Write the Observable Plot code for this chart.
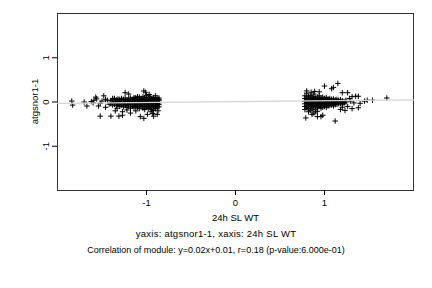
<!DOCTYPE html>
<html>
<head>
<meta charset="utf-8">
<script src="https://cdn.jsdelivr.net/npm/d3@7"></script>
<script src="https://cdn.jsdelivr.net/npm/@observablehq/plot@0.6"></script>
<style>
  html, body { margin: 0; padding: 0; background: #fff; }
  #wrap { width: 432px; font-family: "Liberation Sans", Arial, Helvetica, sans-serif; }
  .cap { width: 432px; text-align: center; line-height: 17px; color: #000; }
  .c1 { font-size: 9.5px; letter-spacing: 0.25px; }
  .c2 { font-size: 9px; letter-spacing: 0; }
</style>
</head>
<body>
<div id="wrap"></div>
<script>
// ---- data ----
const xTicks = [-1, 0, 1];
const yTicks = [-1, 0, 1];
const xLabel = "24h SL WT";
const yLabel = "atgsnor1-1";
const caption1 = "yaxis: atgsnor1-1, xaxis: 24h SL WT";
const caption2 = "Correlation of module: y=0.02x+0.01, r=0.18 (p-value:6.000e-01)";
const slope = 0.02, intercept = 0.01;

// left cluster: scattered points
const leftOutliers = [
  [-1.84,0.02],[-1.83,-0.07],[-1.70,0.00],[-1.67,-0.09],[-1.62,0.01],[-1.59,0.04],[-1.56,0.07],
  [-1.57,0.11],[-1.54,-0.09],[-1.50,0.02],[-1.48,0.14],[-1.52,-0.32],[-1.40,-0.32],[-1.31,-0.32],
  [-1.27,-0.30],[-1.46,-0.12],[-1.24,0.21],[-1.20,0.18],[-1.03,0.25],[-1.01,0.22],[-1.07,-0.33],
  [-1.03,-0.37],[-0.92,-0.32],[-0.88,-0.28],[-0.90,0.14],[-1.52,-0.03],[-1.44,0.04],[-1.42,-0.05],
  [-1.38,0.08],[-1.35,-0.20],[-1.33,-0.14],[-1.27,-0.22],[-1.22,-0.18],[-1.18,-0.25],[-1.10,0.12],
  [-1.12,-0.20],[-0.95,-0.22],[-0.93,-0.26],[-0.87,-0.20],[-0.86,0.09],[-0.97,0.17],[-1.14,0.10],
  [-0.99,-0.28],[-1.46,0.06],[-1.60,-0.02]
];
// left cluster: dense core, x column then its y values
const leftCore = [
  [-1.40,[0.03,-0.04]],
  [-1.38,[0.06,-0.01,-0.07]],
  [-1.36,[0.02,-0.05,0.08]],
  [-1.34,[-0.02,0.05,-0.08,0.00]],
  [-1.32,[0.04,-0.04,0.07]],
  [-1.30,[0.01,-0.06,0.06,-0.10]],
  [-1.28,[-0.02,0.04,0.08,-0.07]],
  [-1.26,[0.00,-0.05,0.06,-0.11]],
  [-1.24,[0.03,-0.03,0.09,-0.08]],
  [-1.22,[-0.01,0.05,-0.06,0.02,-0.12]],
  [-1.20,[0.02,-0.04,0.07,-0.09]],
  [-1.18,[-0.02,0.04,0.09,-0.06,-0.14]],
  [-1.16,[0.01,-0.05,0.06,-0.10]],
  [-1.14,[-0.03,0.03,0.08,-0.08,-0.13]],
  [-1.12,[0.00,0.05,-0.05,-0.10,0.10]],
  [-1.10,[-0.02,0.03,0.07,-0.07,-0.12]],
  [-1.08,[0.01,-0.04,0.05,-0.09,0.11,-0.15]],
  [-1.06,[-0.01,0.04,-0.06,0.08,-0.11]],
  [-1.04,[0.02,-0.03,0.06,-0.08,0.12,-0.14]],
  [-1.02,[-0.01,0.04,-0.05,0.09,-0.10,-0.17]],
  [-1.00,[0.01,-0.03,0.05,-0.07,0.10,-0.12,0.15]],
  [-0.98,[-0.02,0.03,-0.06,0.07,-0.10,-0.15]],
  [-0.96,[0.00,0.05,-0.04,0.09,-0.09,-0.13,0.13]],
  [-0.94,[-0.01,0.03,-0.06,0.07,-0.11,-0.17]],
  [-0.92,[0.02,-0.03,0.06,-0.08,0.10,-0.13,-0.19]],
  [-0.90,[-0.01,0.04,-0.05,0.08,-0.10,-0.15]],
  [-0.88,[0.01,-0.03,0.05,-0.08,0.09,-0.13]],
  [-0.86,[-0.02,0.03,-0.06,0.06,-0.11]]
];
// right cluster: scattered points
const rightOutliers = [
  [0.79,-0.36],[0.92,-0.33],[0.96,-0.33],[0.98,-0.30],[1.12,-0.43],[1.00,0.36],[1.08,0.30],
  [1.10,0.33],[1.15,0.42],[1.20,0.21],[1.26,0.21],[1.31,0.12],[1.35,0.13],[1.38,0.13],
  [1.29,0.02],[1.33,-0.02],[1.31,-0.15],[1.38,-0.13],[1.18,-0.17],[1.23,-0.19],[1.20,-0.12],
  [1.40,-0.03],[1.45,0.02],[1.48,0.04],[1.54,0.04],[1.70,0.09],[0.80,0.25],[0.85,0.22],
  [0.89,0.24],[0.94,0.23],[0.86,-0.28],[0.88,-0.25],[1.26,-0.10],[1.28,0.08],[0.82,-0.22],
  [0.90,-0.22]
];
// right cluster: dense core
const rightCore = [
  [0.78,[0.02,-0.04,0.08,-0.10,0.14,-0.17]],
  [0.80,[-0.01,0.05,-0.07,0.11,-0.13,0.20]],
  [0.82,[0.01,-0.04,0.07,-0.09,0.13,-0.15]],
  [0.84,[-0.02,0.04,-0.06,0.09,-0.11,0.15,-0.19]],
  [0.86,[0.00,0.05,-0.05,0.10,-0.10,-0.16]],
  [0.88,[0.02,-0.03,0.07,-0.08,0.12,-0.13,0.18]],
  [0.90,[-0.01,0.04,-0.06,0.09,-0.11,-0.17]],
  [0.92,[0.01,-0.04,0.06,-0.08,0.11,-0.13,-0.21]],
  [0.94,[-0.02,0.03,-0.06,0.08,-0.10,0.14]],
  [0.96,[0.00,0.05,-0.04,0.09,-0.09,-0.14]],
  [0.98,[0.02,-0.03,0.06,-0.07,0.11,-0.12]],
  [1.00,[-0.01,0.04,-0.05,0.08,-0.10]],
  [1.02,[0.01,-0.03,0.06,-0.07,0.10,-0.12]],
  [1.04,[-0.02,0.03,-0.05,0.07,-0.09]],
  [1.06,[0.00,0.05,-0.04,0.08,-0.08]],
  [1.08,[0.02,-0.03,0.06,-0.07]],
  [1.10,[-0.01,0.04,-0.05,0.07,-0.09]],
  [1.12,[0.01,-0.03,0.05,-0.06]],
  [1.14,[-0.02,0.03,-0.05,0.06]],
  [1.16,[0.00,0.04,-0.04]],
  [1.18,[0.02,-0.03,0.05]],
  [1.20,[-0.01,0.03,-0.05]],
  [1.22,[0.01,-0.03]],
  [1.24,[0.00,0.04]]
];

// ---- build table ----
const points = [];
for (const [x, y] of leftOutliers.concat(rightOutliers)) points.push({x, y});
for (const [x, ys] of leftCore.concat(rightCore)) for (const y of ys) points.push({x, y});
const xDomain = [-2, 2], yDomain = [-2, 2];
const fit = xDomain.map(x => ({x, y: slope * x + intercept}));
const fmt = d => String(d);

const chart = Plot.plot({
  width: 432,
  height: 225,
  marginLeft: 57,
  marginRight: 19,
  marginTop: 13,
  marginBottom: 35,
  style: {fontFamily: '"Liberation Sans", Arial, Helvetica, sans-serif', fontSize: "9.5px", background: "#fff", color: "#000"},
  x: {domain: xDomain},
  y: {domain: yDomain},
  marks: [
    Plot.frame({stroke: "#333", strokeWidth: 1}),
    Plot.dot(points, {x: "x", y: "y", symbol: "plus", r: 1.9, stroke: "#000", strokeWidth: 1}),
    Plot.line(fit, {x: "x", y: "y", stroke: "#d4d4d4", strokeWidth: 1.2}),
    Plot.axisX({ticks: xTicks, tickFormat: fmt, tickSize: 5, tickPadding: 4, label: xLabel, labelAnchor: "center", labelArrow: "none", labelOffset: 30}),
    Plot.axisY({ticks: yTicks, tickFormat: fmt, tickSize: 5, tickPadding: 4, tickRotate: -90, label: null})
  ]
});
// y-axis title, placed with the chart's own scales
const sx = chart.scale("x"), sy = chart.scale("y");
const lx = sx.apply(xDomain[0]) - 22;
const ly = sy.apply((yDomain[0] + yDomain[1]) / 2);
d3.select(chart).append("text")
  .attr("transform", `translate(${lx},${ly}) rotate(-90)`)
  .attr("text-anchor", "middle")
  .attr("dy", "0.32em")
  .attr("font-size", 9.5)
  .attr("fill", "#000")
  .text(yLabel);

const wrap = document.getElementById("wrap");
wrap.appendChild(chart);
[[caption1, "cap c1"], [caption2, "cap c2"]].forEach(([t, c]) => {
  const d = document.createElement("div");
  d.className = c;
  d.textContent = t;
  wrap.appendChild(d);
});
</script>
</body>
</html>
